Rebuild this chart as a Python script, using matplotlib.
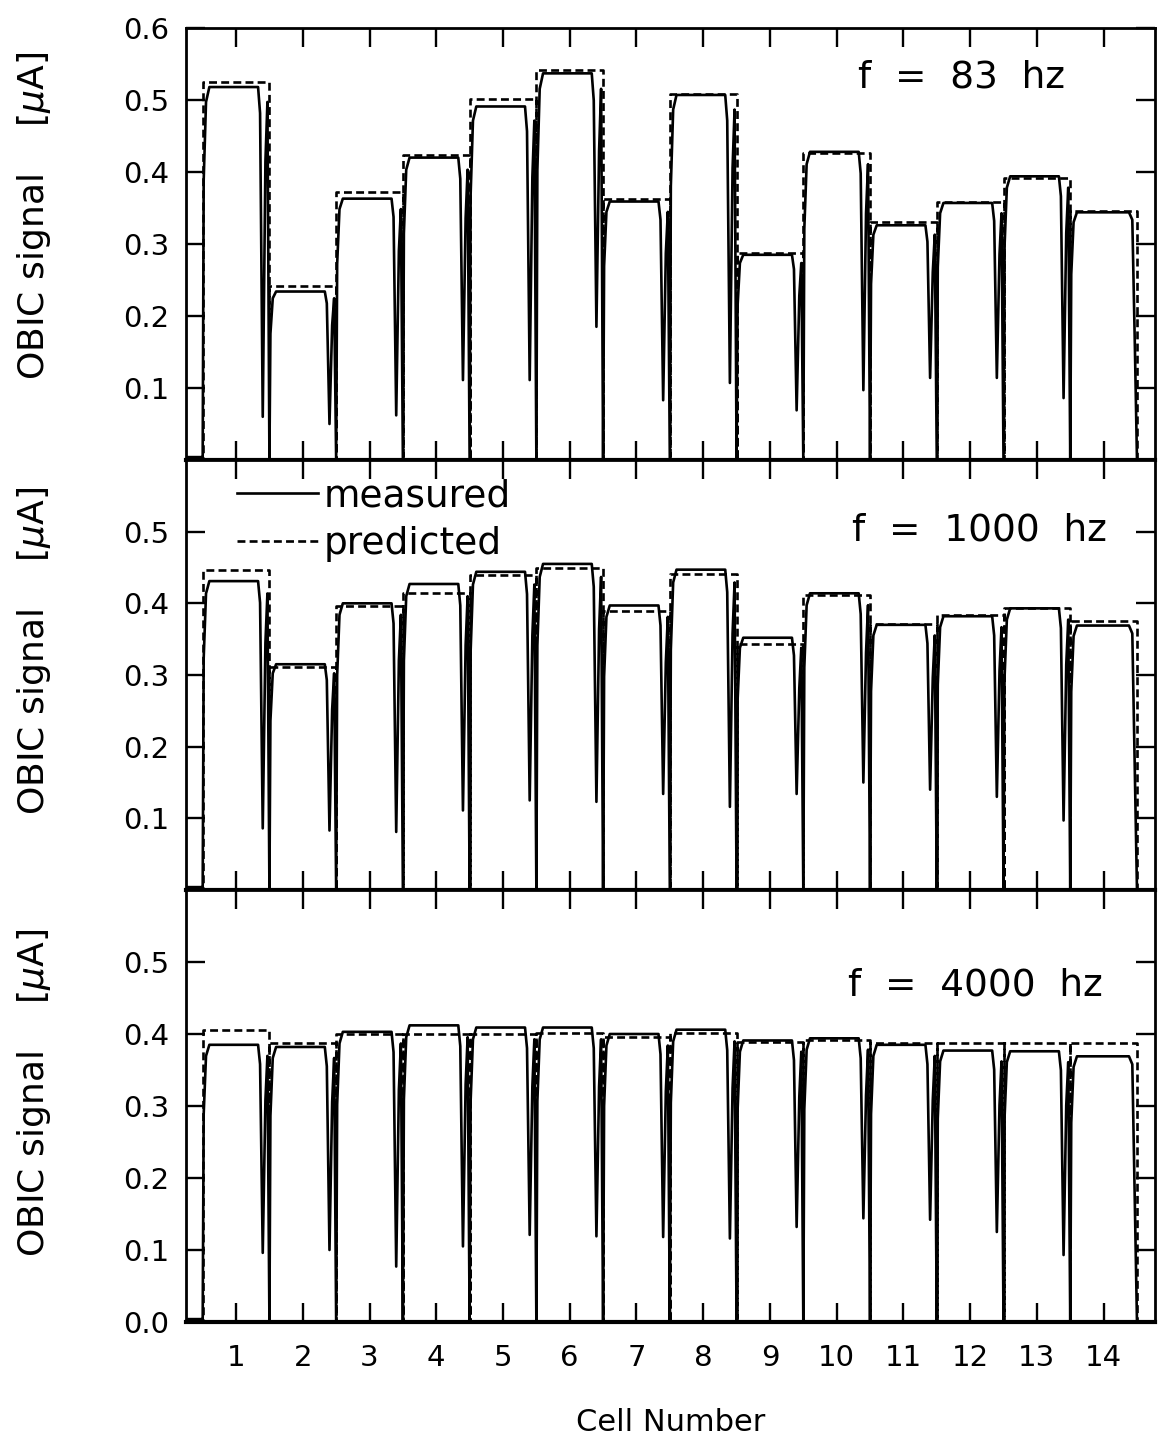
import matplotlib
matplotlib.use("Agg")
import matplotlib.pyplot as plt
from matplotlib.ticker import FixedLocator, FormatStrFormatter

plt.rcParams['font.family'] = ['DejaVu Sans']

# ---------------- data ----------------
cells = [1, 2, 3, 4, 5, 6, 7, 8, 9, 10, 11, 12, 13, 14]
x_tick_labels = ["1", "2", "3", "4", "5", "6", "7", "8", "9", "10", "11", "12", "13", "14"]

freq_labels = ["f  =  83  hz", "f  =  1000  hz", "f  =  4000  hz"]

# 83 Hz
meas_83 = [0.518, 0.234, 0.363, 0.420, 0.491, 0.537, 0.359, 0.507, 0.285, 0.428, 0.326, 0.357, 0.394, 0.344]
pred_83 = [0.525, 0.242, 0.372, 0.423, 0.501, 0.542, 0.362, 0.509, 0.287, 0.427, 0.331, 0.359, 0.392, 0.346]
dip_83 = [0.06, 0.05, 0.062, 0.111, 0.111, 0.185, 0.083, 0.107, 0.069, 0.097, 0.114, 0.114, 0.086, None]

# 1000 Hz
meas_1000 = [0.431, 0.315, 0.400, 0.427, 0.444, 0.455, 0.397, 0.447, 0.352, 0.414, 0.370, 0.382, 0.393, 0.369]
pred_1000 = [0.447, 0.311, 0.396, 0.414, 0.440, 0.449, 0.389, 0.441, 0.343, 0.411, 0.371, 0.384, 0.394, 0.375]
dip_1000 = [0.086, 0.083, 0.081, 0.111, 0.125, 0.123, 0.134, 0.116, 0.134, 0.150, 0.140, 0.130, 0.097, None]

# 4000 Hz
meas_4000 = [0.385, 0.382, 0.403, 0.412, 0.409, 0.409, 0.400, 0.406, 0.391, 0.394, 0.385, 0.377, 0.376, 0.369]
pred_4000 = [0.406, 0.387, 0.400, 0.400, 0.400, 0.402, 0.396, 0.401, 0.389, 0.392, 0.387, 0.387, 0.387, 0.387]
dip_4000 = [0.096, 0.100, 0.077, 0.105, 0.121, 0.119, 0.118, 0.116, 0.132, 0.144, 0.142, 0.125, 0.093, None]

yticks_panels = [[0.1, 0.2, 0.3, 0.4, 0.5, 0.6],
                 [0.1, 0.2, 0.3, 0.4, 0.5],
                 [0.0, 0.1, 0.2, 0.3, 0.4, 0.5]]

XMIN, XMAX = 0.25, 14.77


def measured_trace(levels, dips):
    xs, ys = [XMIN, cells[0] - 0.5], [0.004, 0.004]
    for c, m, d in zip(cells, levels, dips):
        xs += [c - 0.5, c - 0.485, c - 0.45, c - 0.40]
        ys += [0.0, 0.75 * m, 0.96 * m, m]
        if d is None:
            xs += [c + 0.38, c + 0.43, c + 0.47, c + 0.5]
            ys += [m, 0.97 * m, 0.15, 0.0]
        else:
            xs += [c + 0.33, c + 0.36, c + 0.40, c + 0.44, c + 0.47, c + 0.5]
            ys += [m, 0.93 * m, d, 0.80 * m, 0.96 * m, 0.0]
    xs += [XMAX]
    ys += [0.0]
    return xs, ys


def predicted_trace(levels):
    xs, ys = [XMIN], [0.0]
    for c, p in zip(cells, levels):
        xs += [c - 0.5, c - 0.5, c + 0.5, c + 0.5]
        ys += [0.0, p, p, 0.0]
    xs += [XMAX]
    ys += [0.0]
    return xs, ys


fig = plt.figure(figsize=(11.69, 14.37), dpi=100)

left, width = 186 / 1169, 969 / 1169
bottoms = [1 - 460 / 1437, 1 - 890 / 1437, 1 - 1322 / 1437]
heights = [432 / 1437, 430 / 1437, 432 / 1437]
text_pos = [(0.694, 0.885), (0.687, 0.835), (0.683, 0.78)]
ylabel_y = [0.565, 0.555, 0.53]

series = [(meas_83, pred_83, dip_83), (meas_1000, pred_1000, dip_1000), (meas_4000, pred_4000, dip_4000)]

axes = []
for i, (meas, pred, dips) in enumerate(series):
    ax = fig.add_axes([left, bottoms[i], width, heights[i]])
    axes.append(ax)
    mx, my = measured_trace(meas, dips)
    px, py = predicted_trace(pred)
    l1, = ax.plot(mx, my, color='black', lw=1.9, solid_joinstyle='round', label='measured')
    l2, = ax.plot(px, py, color='black', lw=1.9, linestyle=(0, (3.0, 1.6)), label='predicted')
    ax.set_xlim(XMIN, XMAX)
    ax.set_ylim(0, 0.6)
    ax.yaxis.set_major_locator(FixedLocator(yticks_panels[i]))
    ax.yaxis.set_major_formatter(FormatStrFormatter('%.1f'))
    ax.xaxis.set_major_locator(FixedLocator(cells))
    ax.tick_params(axis='both', which='major', direction='in', length=14, width=1.7,
                   top=True, right=True, labelsize=21, pad=12)
    ax.tick_params(axis='x', pad=16)
    for s in ax.spines.values():
        s.set_linewidth(2.0)
    ax.spines['bottom'].set_linewidth(3.0)
    ax.set_ylabel(r'OBIC signal    [$\mu$A]', fontsize=26)
    ax.yaxis.set_label_coords(-0.137, ylabel_y[i])
    ax.text(text_pos[i][0], text_pos[i][1], freq_labels[i], transform=ax.transAxes,
            fontsize=27, ha='left', va='center')
    if i < 2:
        ax.tick_params(axis='x', labelbottom=False)
    else:
        ax.set_xticklabels(x_tick_labels)
        ax.tick_params(axis='x', labelsize=21)
        ax.set_xlabel('Cell Number', fontsize=22, labelpad=26)
    if i == 1:
        ax.legend(handles=[l1, l2], loc='upper left', bbox_to_anchor=(0.0526, 0.958),
                  frameon=False, fontsize=27, handlelength=2.15, handletextpad=0.15,
                  labelspacing=0.33, borderaxespad=0.0, borderpad=0.0)

fig.savefig('out.png', dpi=100)
